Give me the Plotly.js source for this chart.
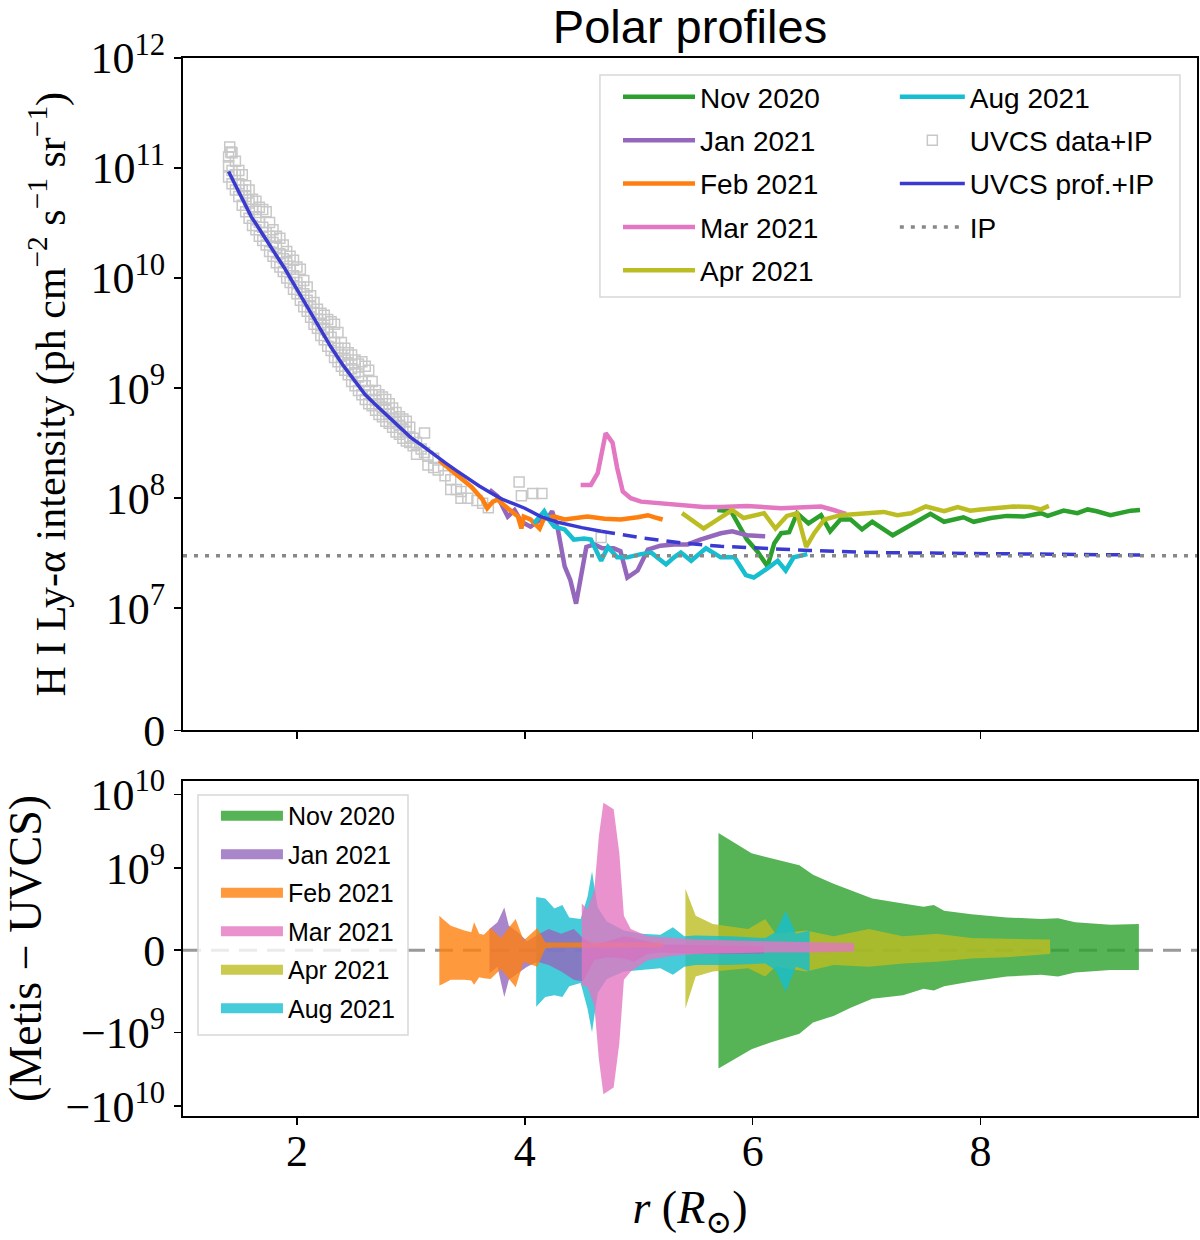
<!DOCTYPE html>
<html>
<head>
<meta charset="utf-8">
<script src="https://cdn.plot.ly/plotly-3.0.1.min.js"></script>
<style>
  body { margin: 0; background: #fff; }
  #chart { width: 1200px; height: 1240px; }
</style>
</head>
<body>
<div id="chart"></div>
<script>
// ---- top panel: H I Ly-alpha intensity (ph cm^-2 s^-1 sr^-1) vs r (R_sun)
const novR = [5.69, 5.81, 5.95, 6.04, 6.13, 6.19, 6.25, 6.32, 6.39, 6.49, 6.60, 6.68, 6.77, 6.86, 6.96, 7.05, 7.23, 7.39, 7.56, 7.68, 7.85, 7.94, 8.09, 8.23, 8.38, 8.53, 8.59, 8.73, 8.85, 8.94, 9.02, 9.14, 9.20, 9.32, 9.40];
const novI = [7.8e7, 7.6e7, 4.2e7, 3.3e7, 2.4e7, 3.9e7, 4.8e7, 4.9e7, 7.3e7, 5.9e7, 7.0e7, 5.0e7, 6.4e7, 6.4e7, 5.2e7, 6.1e7, 4.6e7, 5.7e7, 7.2e7, 6.1e7, 6.7e7, 6.1e7, 6.6e7, 6.9e7, 6.8e7, 7.3e7, 6.9e7, 7.7e7, 7.3e7, 7.9e7, 7.6e7, 7.0e7, 7.2e7, 7.7e7, 7.8e7];

const janR = [3.69, 3.76, 3.85, 3.91, 3.97, 4.05, 4.14, 4.20, 4.24, 4.29, 4.35, 4.40, 4.45, 4.49, 4.54, 4.61, 4.68, 4.78, 4.84, 4.90, 4.99, 5.08, 5.19, 5.31, 5.43, 5.54, 5.63, 5.72, 5.82, 5.95, 6.11];
const janI = [1.19e8, 1.04e8, 6.8e7, 7.8e7, 6.1e7, 5.5e7, 6.4e7, 6.6e7, 7.6e7, 5.2e7, 2.4e7, 1.8e7, 1.1e7, 1.9e7, 3.6e7, 3.8e7, 3.5e7, 3.5e7, 3.3e7, 1.9e7, 2.2e7, 3.4e7, 3.7e7, 3.8e7, 3.8e7, 4.2e7, 4.5e7, 4.8e7, 5.0e7, 4.6e7, 4.5e7];

const febR = [3.25, 3.38, 3.53, 3.63, 3.67, 3.72, 3.76, 3.85, 3.94, 3.97, 3.99, 4.05, 4.13, 4.17, 4.26, 4.35, 4.46, 4.55, 4.70, 4.84, 4.99, 5.08, 5.14, 5.21];
const febI = [2.2e8, 1.7e8, 1.27e8, 9.7e7, 8.1e7, 9.3e7, 9.7e7, 8.1e7, 6.8e7, 5.3e7, 6.8e7, 6.4e7, 5.3e7, 6.6e7, 6.8e7, 6.4e7, 6.6e7, 6.8e7, 6.5e7, 6.4e7, 6.7e7, 7.0e7, 6.7e7, 6.4e7];

const marR = [4.49, 4.58, 4.64, 4.71, 4.77, 4.81, 4.86, 4.93, 5.02, 5.13, 5.28, 5.43, 5.57, 5.72, 5.95, 6.25, 6.60, 6.71, 6.82];
const marI = [1.32e8, 1.32e8, 1.69e8, 3.9e8, 3.2e8, 1.9e8, 1.15e8, 1.0e8, 9.3e7, 9.1e7, 9.0e7, 8.7e7, 8.3e7, 8.3e7, 8.5e7, 8.1e7, 8.4e7, 7.8e7, 7.2e7];

const aprR = [5.38, 5.49, 5.57, 5.66, 5.82, 5.92, 6.10, 6.20, 6.30, 6.39, 6.47, 6.54, 6.63, 6.77, 6.98, 7.15, 7.27, 7.39, 7.52, 7.68, 7.80, 7.91, 8.00, 8.29, 8.44, 8.53, 8.60];
const aprI = [7.3e7, 6.1e7, 5.3e7, 6.1e7, 7.8e7, 6.6e7, 7.3e7, 5.3e7, 6.9e7, 7.3e7, 3.6e7, 4.8e7, 6.4e7, 7.0e7, 7.2e7, 7.5e7, 7.0e7, 7.3e7, 8.4e7, 7.6e7, 8.3e7, 7.7e7, 7.9e7, 8.4e7, 8.3e7, 7.9e7, 8.5e7];

const augR = [4.08, 4.17, 4.21, 4.26, 4.35, 4.43, 4.52, 4.58, 4.67, 4.73, 4.81, 4.90, 5.02, 5.11, 5.16, 5.24, 5.31, 5.37, 5.46, 5.54, 5.59, 5.72, 5.84, 5.94, 6.01, 6.13, 6.22, 6.29, 6.36, 6.48];
const augI = [5.9e7, 7.6e7, 6.4e7, 5.5e7, 5.2e7, 4.2e7, 4.3e7, 4.2e7, 2.7e7, 3.6e7, 2.9e7, 2.9e7, 3.1e7, 3.2e7, 2.9e7, 2.5e7, 2.9e7, 3.2e7, 2.7e7, 3.2e7, 3.5e7, 2.9e7, 2.9e7, 2.0e7, 1.9e7, 2.3e7, 2.7e7, 2.2e7, 2.9e7, 3.1e7];

// UVCS data + IP (grey squares), three readings per radius across the cloud
const uvcsR = [
  1.40, 1.40, 1.40, 1.41, 1.42, 1.43, 1.43, 1.43, 1.46, 1.46, 1.46, 1.49, 1.49, 1.49, 1.52, 1.52, 1.52,
  1.55, 1.55, 1.55, 1.58, 1.58, 1.58, 1.61, 1.61, 1.61, 1.64, 1.64, 1.64, 1.67, 1.67, 1.67,
  1.70, 1.70, 1.70, 1.73, 1.73, 1.73, 1.76, 1.76, 1.76, 1.79, 1.79, 1.79, 1.82, 1.82, 1.82,
  1.85, 1.85, 1.85, 1.88, 1.88, 1.88, 1.91, 1.91, 1.91, 1.94, 1.94, 1.94, 1.97, 1.97, 1.97,
  2.00, 2.00, 2.00, 2.03, 2.03, 2.03, 2.06, 2.06, 2.06, 2.09, 2.09, 2.09, 2.12, 2.12, 2.12,
  2.15, 2.15, 2.15, 2.18, 2.18, 2.18, 2.21, 2.21, 2.21, 2.24, 2.24, 2.24, 2.27, 2.27, 2.27,
  2.30, 2.30, 2.30, 2.33, 2.33, 2.33, 2.36, 2.36, 2.36, 2.39, 2.39, 2.39, 2.42, 2.42, 2.42,
  2.45, 2.45, 2.45, 2.48, 2.48, 2.48, 2.51, 2.51, 2.51, 2.54, 2.54, 2.54, 2.57, 2.57, 2.57,
  2.60, 2.60, 2.60, 2.63, 2.63, 2.63, 2.66, 2.66, 2.66, 2.69, 2.69, 2.69, 2.72, 2.72, 2.72,
  2.75, 2.75, 2.75, 2.78, 2.78, 2.78, 2.81, 2.81, 2.81, 2.84, 2.84, 2.84, 2.87, 2.87, 2.87,
  2.90, 2.90, 2.90, 2.93, 2.93, 2.93, 2.96, 2.96, 2.96, 2.99, 2.99, 2.99,
  3.02, 3.02, 3.05, 3.05, 3.09, 3.12, 3.12, 3.15, 3.15, 3.20, 3.20, 3.24, 3.30, 3.35, 3.35, 3.40,
  3.44, 3.44, 3.50, 3.58, 3.63, 3.68, 3.95, 3.97, 4.07, 4.15, 4.67];
const uvcsI = [
  8.3e10, 1.05e11, 1.26e11, 1.55e11, 1.4e11, 7.2e10, 9.5e10, 1.38e11, 6.3e10, 8.7e10, 1.15e11, 5.5e10, 7.2e10, 9.5e10, 4.6e10, 6.3e10, 8.7e10,
  4.0e10, 5.5e10, 6.9e10, 3.5e10, 4.8e10, 6.3e10, 3.0e10, 4.2e10, 5.2e10, 2.75e10, 3.6e10, 5.0e10, 2.4e10, 3.2e10, 4.4e10,
  2.2e10, 2.9e10, 4.2e10, 2.0e10, 2.6e10, 4.0e10, 1.74e10, 2.4e10, 3.2e10, 1.58e10, 2.1e10, 2.75e10, 1.38e10, 1.9e10, 2.4e10,
  1.26e10, 1.66e10, 2.3e10, 1.15e10, 1.5e10, 2.0e10, 1.0e10, 1.38e10, 1.74e10, 9.1e9, 1.2e10, 1.58e10, 7.9e9, 1.05e10, 1.45e10,
  7.2e9, 9.1e9, 1.26e10, 6.3e9, 8.3e9, 1.2e10, 5.5e9, 7.2e9, 9.5e9, 5.0e9, 6.3e9, 8.3e9, 4.4e9, 5.5e9, 6.9e9,
  3.8e9, 4.8e9, 6.0e9, 3.5e9, 4.2e9, 5.2e9, 3.0e9, 3.8e9, 4.8e9, 2.75e9, 3.5e9, 4.6e9, 2.4e9, 3.2e9, 4.2e9,
  2.2e9, 2.9e9, 4.0e9, 1.9e9, 2.6e9, 3.8e9, 1.74e9, 2.3e9, 3.2e9, 1.58e9, 2.0e9, 2.6e9, 1.45e9, 1.8e9, 2.3e9,
  1.32e9, 1.66e9, 2.1e9, 1.15e9, 1.5e9, 2.0e9, 1.05e9, 1.38e9, 1.8e9, 9.5e8, 1.26e9, 1.66e9, 8.7e8, 1.15e9, 1.74e9,
  7.9e8, 1.05e9, 1.58e9, 7.2e8, 9.5e8, 1.45e9, 6.9e8, 8.7e8, 1.15e9, 6.3e8, 7.9e8, 9.5e8, 5.75e8, 7.2e8, 8.7e8,
  5.5e8, 6.6e8, 8.3e8, 5.0e8, 6.3e8, 7.9e8, 4.8e8, 5.75e8, 7.2e8, 4.4e8, 5.25e8, 6.6e8, 4.0e8, 5.0e8, 6.0e8,
  3.8e8, 4.6e8, 5.5e8, 3.5e8, 4.2e8, 5.25e8, 3.3e8, 4.0e8, 5.0e8, 3.2e8, 3.6e8, 4.4e8,
  3.0e8, 3.5e8, 2.5e8, 3.2e8, 2.8e8, 3.9e8, 2.6e8, 2.0e8, 2.4e8, 2.3e8, 1.9e8, 1.8e8, 1.6e8, 1.47e8, 1.2e8, 1.2e8,
  1.15e8, 1.0e8, 1.0e8, 9.5e7, 9.0e7, 8.2e7, 1.4e8, 1.05e8, 1.1e8, 1.1e8, 4.4e7];

// UVCS profile + IP: solid where measured, dashed extrapolation
const profR = [1.40, 1.45, 1.50, 1.55, 1.60, 1.65, 1.70, 1.75, 1.80, 1.85, 1.90, 1.95, 2.00, 2.10, 2.20, 2.30, 2.40, 2.50, 2.60, 2.70, 2.80, 2.90, 3.00, 3.10, 3.20, 3.30, 3.40, 3.50, 3.60, 3.70, 3.80, 3.90, 4.00, 4.14, 4.30, 4.50, 4.67];
const profI = [9.3e10, 7.4e10, 5.8e10, 4.6e10, 3.6e10, 3.0e10, 2.45e10, 2.07e10, 1.72e10, 1.45e10, 1.19e10, 9.7e9, 7.9e9, 5.2e9, 3.5e9, 2.35e9, 1.64e9, 1.2e9, 8.7e8, 6.9e8, 5.5e8, 4.4e8, 3.55e8, 3.0e8, 2.5e8, 2.1e8, 1.78e8, 1.51e8, 1.29e8, 1.12e8, 9.8e7, 8.9e7, 8.1e7, 6.8e7, 6.0e7, 5.4e7, 5.0e7];
const extR = [4.67, 5.00, 5.37, 5.72, 6.10, 6.50, 7.10, 8.00, 9.00, 9.40];
const extI = [5.0e7, 4.4e7, 3.93e7, 3.65e7, 3.5e7, 3.35e7, 3.2e7, 3.12e7, 3.06e7, 3.04e7];

const ipLevel = 3.0e7;

// ---- bottom panel: (Metis - UVCS) bands, upper and lower edges
const novBandR = [5.70, 5.99, 6.17, 6.41, 6.53, 6.71, 6.86, 7.05, 7.32, 7.50, 7.59, 7.68, 7.92, 8.23, 8.53, 8.68, 8.83, 9.14, 9.39];
const novBandHi = [3.0e9, 1.6e9, 1.35e9, 1.1e9, 9.2e8, 8.1e8, 7.3e8, 6.3e8, 5.7e8, 5.3e8, 5.5e8, 4.8e8, 4.4e8, 4.0e8, 3.8e8, 3.9e8, 3.4e8, 3.1e8, 3.2e8];
const novBandLo = [-3.1e9, -1.7e9, -1.35e9, -1.05e9, -8.8e8, -8.0e8, -7.0e8, -5.9e8, -5.5e8, -4.7e8, -4.9e8, -4.4e8, -3.8e8, -3.2e8, -3.0e8, -3.2e8, -2.7e8, -2.4e8, -2.4e8];

const janBandR = [3.69, 3.76, 3.82, 3.86, 3.94, 4.02, 4.11, 4.21, 4.32, 4.43, 4.51, 4.61, 4.73, 4.87, 4.96, 5.08, 5.19, 5.60, 6.10];
const janBandHi = [2.6e8, 3.4e8, 5.2e8, 3.0e8, 2.2e8, 1.1e8, 1.9e8, 2.6e8, 2.0e8, 2.6e8, 1.5e8, 7.0e7, 1.1e8, 1.7e8, 1.5e8, 1.1e8, 7.0e7, 6.2e7, 5.0e7];
const janBandLo = [-2.8e8, -2.0e8, -5.7e8, -3.6e8, -2.8e8, -2.0e8, -1.4e8, -1.8e8, -2.6e8, -3.6e8, -3.8e8, -1.2e8, -8.6e7, -1.0e8, -1.4e8, -4.7e7, -2.8e7, -4.7e7, -4.0e7];

const febBandR = [3.25, 3.28, 3.35, 3.47, 3.53, 3.555, 3.60, 3.64, 3.70, 3.79, 3.92, 3.99, 4.11, 4.18, 4.25, 4.50, 4.80, 5.00, 5.21];
const febBandHi = [4.2e8, 3.8e8, 3.0e8, 2.4e8, 2.2e8, 3.4e8, 2.0e8, 1.9e8, 2.7e8, 1.5e8, 3.8e8, 1.2e8, 2.7e8, 9.3e7, 9.3e7, 9.3e7, 9.3e7, 9.9e7, 9.3e7];
const febBandLo = [-4.3e8, -4.1e8, -3.6e8, -3.6e8, -3.7e8, -4.2e8, -3.3e8, -3.4e8, -3.5e8, -2.3e8, -4.5e8, -1.4e8, -2.0e8, 2.3e7, 3.5e7, 3.5e7, 3.5e7, 4.0e7, 3.5e7];

const marBandR = [4.50, 4.55, 4.61, 4.65, 4.69, 4.78, 4.83, 4.87, 4.93, 5.08, 5.31, 5.50, 6.11, 6.50, 6.89];
const marBandHi = [5.7e8, 5.0e8, 7.3e8, 2.7e9, 7.7e9, 6.3e9, 1.6e9, 4.2e8, 2.6e8, 1.7e8, 1.5e8, 1.3e8, 1.1e8, 1.0e8, 8.8e7];
const marBandLo = [-4.2e8, -4.5e8, -6.7e8, -2.3e9, -6.9e9, -5.6e9, -1.4e9, -3.6e8, -2.6e8, -1.2e8, -6.6e7, -4.7e7, -2.8e7, -2.8e7, -1.6e7];

const aprBandR = [5.41, 5.50, 5.65, 5.96, 6.11, 6.20, 6.47, 6.71, 7.02, 7.32, 7.62, 7.92, 8.23, 8.61];
const aprBandHi = [7.5e8, 4.2e8, 3.2e8, 2.6e8, 3.8e8, 2.0e8, 2.4e8, 1.7e8, 2.6e8, 1.7e8, 2.0e8, 1.5e8, 1.4e8, 1.3e8];
const aprBandLo = [-7.1e8, -3.2e8, -2.6e8, -2.2e8, -3.2e8, -2.0e8, -2.6e8, -1.8e8, -2.0e8, -1.6e8, -1.4e8, -1.0e8, -8.6e7, -4.7e7];

const augBandR = [4.10, 4.18, 4.26, 4.33, 4.39, 4.49, 4.55, 4.59, 4.64, 4.72, 4.87, 5.02, 5.19, 5.30, 5.40, 5.50, 5.80, 6.11, 6.20, 6.29, 6.38, 6.50];
const augBandHi = [6.5e8, 6.3e8, 5.1e8, 5.5e8, 4.0e8, 3.8e8, 6.5e8, 9.6e8, 5.2e8, 3.5e8, 2.4e8, 2.0e8, 1.9e8, 2.8e8, 1.7e8, 1.8e8, 1.7e8, 1.5e8, 2.2e8, 4.8e8, 2.0e8, 2.4e8];
const augBandLo = [-6.9e8, -5.7e8, -5.5e8, -5.7e8, -4.4e8, -4.0e8, -7.1e8, -1.0e9, -5.2e8, -3.5e8, -2.6e8, -2.4e8, -2.2e8, -3.0e8, -2.0e8, -1.8e8, -1.8e8, -1.6e8, -2.4e8, -5.1e8, -2.0e8, -2.6e8];

const months = ['Nov 2020', 'Jan 2021', 'Feb 2021', 'Mar 2021', 'Apr 2021', 'Aug 2021'];
const monthColors = ['#2ca02c', '#9467bd', '#ff7f0e', '#e377c2', '#bcbd22', '#17becf'];

const xRange = [1.0, 9.9];
const topTicks = [0, 1e7, 1e8, 1e9, 1e10, 1e11, 1e12];
const topTickText = ['0', '10<sup>7</sup>', '10<sup>8</sup>', '10<sup>9</sup>', '10<sup>10</sup>', '10<sup>11</sup>', '10<sup>12</sup>'];
const botTicks = [-1e10, -1e9, 0, 1e9, 1e10];
const botTickText = ['\u221210<sup>10</sup>', '\u221210<sup>9</sup>', '0', '10<sup>9</sup>', '10<sup>10</sup>'];

// symmetric log like matplotlib's symlog (base 10, linscale 1)
const TOP_LIN = 1e7, BOT_LIN = 1e9;
function symlog(v, th) {
    const c = 1 / (1 - 1 / 10);
    const a = Math.abs(v);
    if (a <= th) return v / th * c;
    return Math.sign(v) * (c + Math.log10(a / th));
}
const tl = v => symlog(v, TOP_LIN);
const bl = v => symlog(v, BOT_LIN);

function rgba(hex, a) {
    const n = parseInt(hex.slice(1), 16);
    return `rgba(${n >> 16},${(n >> 8) & 255},${n & 255},${a})`;
}

const serif = 'Liberation Serif, DejaVu Serif, serif';
const sans = 'Liberation Sans, Arial, sans-serif';

const topSeries = [
    [novR, novI], [janR, janI], [febR, febI], [marR, marI], [aprR, aprI], [augR, augI]
];
const bands = [
    [novBandR, novBandHi, novBandLo], [janBandR, janBandHi, janBandLo], [febBandR, febBandHi, febBandLo],
    [marBandR, marBandHi, marBandLo], [aprBandR, aprBandHi, aprBandLo], [augBandR, augBandHi, augBandLo]
];

let data = [];

data.push({
    x: uvcsR, y: uvcsI.map(tl), xaxis: 'x', yaxis: 'y',
    type: 'scatter', mode: 'markers', name: 'UVCS data+IP',
    marker: { symbol: 'square-open', size: 10, color: '#c8c8c8', line: { width: 1.5 } },
    legend: 'legend2', legendgroup: 'g7', legendrank: 2
});

topSeries.forEach(([r, I], i) => {
    const inSecond = i === 5;
    data.push({
        x: r, y: I.map(tl), xaxis: 'x', yaxis: 'y',
        type: 'scatter', mode: 'lines', name: months[i],
        line: { color: monthColors[i], width: 4.5 },
        legend: inSecond ? 'legend2' : 'legend',
        legendgroup: 'g' + i, legendrank: inSecond ? 1 : i + 1
    });
});

data.push({
    x: profR, y: profI.map(tl), xaxis: 'x', yaxis: 'y',
    type: 'scatter', mode: 'lines', name: 'UVCS prof.+IP',
    line: { color: '#3a3ad0', width: 3.5 },
    legend: 'legend2', legendgroup: 'g8', legendrank: 3
});
data.push({
    x: extR, y: extI.map(tl), xaxis: 'x', yaxis: 'y',
    type: 'scatter', mode: 'lines', showlegend: false,
    line: { color: '#3a3ad0', width: 3.5, dash: '14px,8px' }
});
data.push({
    x: xRange, y: [ipLevel, ipLevel].map(tl), xaxis: 'x', yaxis: 'y',
    type: 'scatter', mode: 'lines', name: 'IP',
    line: { color: '#888888', width: 3.5, dash: '4px,7px' },
    legend: 'legend2', legendgroup: 'g9', legendrank: 4
});

// zero line of the difference panel
data.push({
    x: xRange, y: [0, 0], xaxis: 'x2', yaxis: 'y2',
    type: 'scatter', mode: 'lines', showlegend: false,
    line: { color: '#999999', width: 3, dash: '18px,10px' }
});

// draw order of the bands: Nov, Apr, Aug, Jan, Feb, Mar
[0, 4, 5, 1, 2, 3].forEach(i => {
    const [r, hi, lo] = bands[i];
    data.push({
        x: r.concat(r.slice().reverse()),
        y: hi.map(bl).concat(lo.slice().reverse().map(bl)),
        xaxis: 'x2', yaxis: 'y2',
        type: 'scatter', mode: 'lines', fill: 'toself', name: months[i],
        fillcolor: rgba(monthColors[i], 0.8), line: { width: 0 },
        showlegend: false
    });
});
// legend handles for the bands (thick patches)
months.forEach((m, i) => {
    data.push({
        x: [null], y: [null], xaxis: 'x2', yaxis: 'y2',
        type: 'scatter', mode: 'lines', name: m,
        line: { color: rgba(monthColors[i], 0.8), width: 20 },
        legend: 'legend3', legendgroup: 'b' + i, legendrank: i + 1
    });
});

const axisBase = {
    showline: true, linecolor: '#000', linewidth: 2, mirror: true,
    ticks: 'outside', ticklen: 7, tickwidth: 1.5, tickcolor: '#000',
    showgrid: false, zeroline: false,
    tickfont: { family: serif, size: 44, color: '#000' }
};

let layout = {
    width: 1200, height: 1240,
    margin: { l: 183, r: 3, t: 58, b: 124 },
    paper_bgcolor: '#fff', plot_bgcolor: '#fff',
    title: {
        text: 'Polar profiles', x: 0.575, xanchor: 'center', y: 0.979, yanchor: 'middle',
        font: { family: sans, size: 47, color: '#000' }
    },
    xaxis: Object.assign({}, axisBase, {
        anchor: 'y', domain: [0, 1], range: xRange, tickvals: [2, 4, 6, 8], showticklabels: false
    }),
    yaxis: Object.assign({}, axisBase, {
        anchor: 'x', domain: [0.3644, 1], range: [0, tl(1e12)],
        tickvals: topTicks.map(tl), ticktext: topTickText,
        title: {
            text: 'H I Ly-\u03b1 intensity (ph cm<sup>\u22122</sup> s<sup>\u22121</sup> sr<sup>\u22121</sup>)',
            font: { family: serif, size: 42, color: '#000' }, standoff: 12
        }
    }),
    xaxis2: Object.assign({}, axisBase, {
        anchor: 'y2', domain: [0, 1], range: xRange, tickvals: [2, 4, 6, 8],
        ticklabelstandoff: -12,
        title: {
            text: '<i>r</i> (<i>R</i><sub>\u2299</sub>)',
            font: { family: serif, size: 46, color: '#000' }, standoff: 18
        }
    }),
    yaxis2: Object.assign({}, axisBase, {
        anchor: 'x2', domain: [0, 0.3169], range: [bl(-1.36e10), bl(1.53e10)],
        tickvals: botTicks.map(bl), ticktext: botTickText,
        title: {
            text: '(Metis \u2212 UVCS)',
            font: { family: serif, size: 46, color: '#000' }, standoff: 14
        }
    }),
    legend: {
        x: 0.429, y: 0.9867, xanchor: 'left', yanchor: 'top',
        bgcolor: 'rgba(0,0,0,0)', borderwidth: 0, itemwidth: 72, tracegroupgap: 4,
        font: { family: sans, size: 28, color: '#000' }
    },
    legend2: {
        x: 0.702, y: 0.9867, xanchor: 'left', yanchor: 'top',
        bgcolor: 'rgba(0,0,0,0)', borderwidth: 0, itemwidth: 65, tracegroupgap: 4,
        font: { family: sans, size: 28, color: '#000' }
    },
    legend3: {
        x: 0.0325, y: 0.3053, xanchor: 'left', yanchor: 'top',
        bgcolor: 'rgba(0,0,0,0)', borderwidth: 0, itemwidth: 62, tracegroupgap: 3,
        font: { family: sans, size: 25, color: '#000' }
    },
    shapes: [
        {
            type: 'rect', xref: 'paper', yref: 'paper', layer: 'above',
            x0: 0.4112, x1: 0.9832, y0: 0.7741, y1: 0.9839,
            line: { color: '#d8d8d8', width: 1.5 }, fillcolor: 'rgba(255,255,255,0.8)'
        },
        {
            type: 'rect', xref: 'paper', yref: 'paper', layer: 'above',
            x0: 0.0148, x1: 0.2219, y0: 0.0766, y1: 0.3034,
            line: { color: '#d8d8d8', width: 1.5 }, fillcolor: 'rgba(255,255,255,0.8)'
        }
    ],
    showlegend: true
};

Plotly.newPlot('chart', data, layout, { displayModeBar: false, staticPlot: true });
</script>
</body>
</html>
